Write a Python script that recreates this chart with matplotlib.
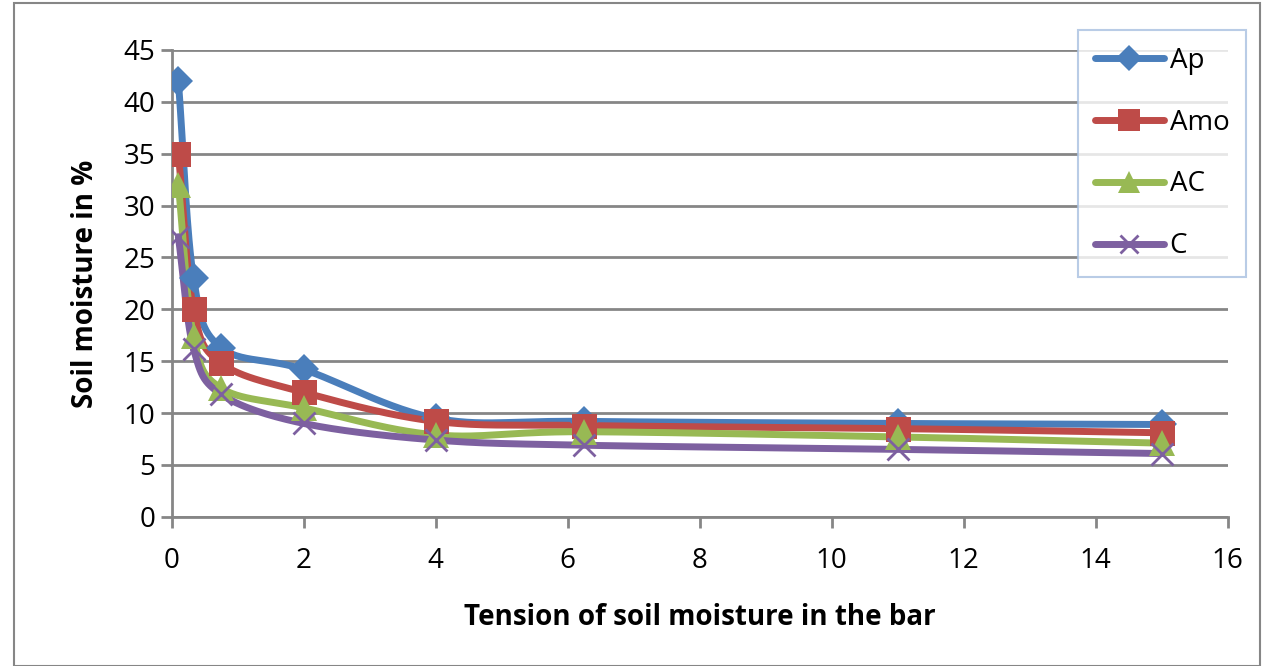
import matplotlib
matplotlib.use("Agg")
import matplotlib.pyplot as plt
import numpy as np
from matplotlib.patches import Rectangle

# tension (bar) and soil moisture (%) for each horizon
tension = [0.1, 0.33, 0.75, 2, 4, 6.25, 11, 15]
ap = [42, 23, 16.3, 14.2, 9.5, 9.2, 9.0, 8.9]
amo = [35, 20, 14.8, 12, 9.2, 8.8, 8.5, 8.1]
ac = [32, 17.4, 12.4, 10.5, 7.9, 8.2, 7.7, 7.1]
c = [27, 16.2, 11.8, 9, 7.4, 6.9, 6.5, 6.1]

series = [("Ap", ap, "#4A7EBB", "D", 15.5),
          ("Amo", amo, "#BE4B48", "s", 18),
          ("AC", ac, "#98B954", "^", 19),
          ("C", c, "#7D60A0", "x", 16)]

plt.rcParams['font.family'] = ['Open Sans', 'DejaVu Sans']

fig = plt.figure(figsize=(12.63, 6.66), dpi=100)
ax = fig.add_axes([0.136, 0.224, 0.836, 0.701])


def smooth(xs, ys, sx, sy, n=30):
    # catmull-rom through the points, done in screen-like units
    px = np.array(xs) * sx
    py = np.array(ys) * sy
    P = np.column_stack([px, py])
    P = np.vstack([P[0] - (P[1] - P[0]), P, P[-1] + (P[-1] - P[-2])])
    out = []
    for i in range(1, len(P) - 2):
        p0, p1, p2, p3 = P[i - 1], P[i], P[i + 1], P[i + 2]
        t = np.linspace(0, 1, n)[:, None]
        seg = 0.5 * ((2 * p1) + (-p0 + p2) * t + (2 * p0 - 5 * p1 + 4 * p2 - p3) * t ** 2
                     + (-p0 + 3 * p1 - 3 * p2 + p3) * t ** 3)
        out.append(seg)
    out = np.vstack(out)
    return out[:, 0] / sx, out[:, 1] / sy


sx = 1056 / 16.0
sy = 467 / 45.0
for name, vals, col, mk, ms in series:
    xs, ys = smooth(tension, vals, sx, sy)
    ax.plot(xs, ys, color=col, lw=5, solid_capstyle='round', zorder=3)
    ax.plot(tension, vals, linestyle='none', marker=mk, color=col, ms=ms,
            mew=2 if mk == 'x' else 0, zorder=4)
    ax.plot([], [], color=col, lw=5, marker=mk, ms=ms * 0.85, mew=2 if mk == 'x' else 0,
            label=name, solid_capstyle='round')

ax.set_xlim(0, 16)
ax.set_ylim(0, 45)
ax.set_xticks(range(0, 17, 2))
ax.set_yticks(range(0, 46, 5))
ax.yaxis.grid(True, color='#868686', lw=2)
ax.set_axisbelow(True)
for s in ['top', 'right']:
    ax.spines[s].set_visible(False)
for s in ['left', 'bottom']:
    ax.spines[s].set_color('#868686')
    ax.spines[s].set_linewidth(2)
ax.tick_params(axis='both', labelsize=20, color='#868686', width=2, length=8)
ax.tick_params(axis='x', pad=14)
ax.tick_params(axis='y', pad=4)
ax.set_xlabel("Tension of soil moisture in the bar", fontsize=20, fontweight='bold', labelpad=20)
ax.set_ylabel("Soil moisture in %", fontsize=20, fontweight='bold', labelpad=17)

leg = fig.legend(loc='upper left', bbox_to_anchor=(1078 / 1263, 1 - 30 / 666), fontsize=20,
                 frameon=True, fancybox=False, edgecolor='#A8C0E0', handlelength=2.5,
                 labelspacing=1.22, borderpad=0.6, handletextpad=0.2, borderaxespad=0)
leg.get_frame().set_linewidth(1.5)

fig.patches.append(Rectangle((14 / 1263, 0.0), 1 - 17 / 1263, 1 - 3 / 666, transform=fig.transFigure,
                             fill=False, edgecolor='#868686', lw=1.5))

fig.savefig("out.png", dpi=100)
